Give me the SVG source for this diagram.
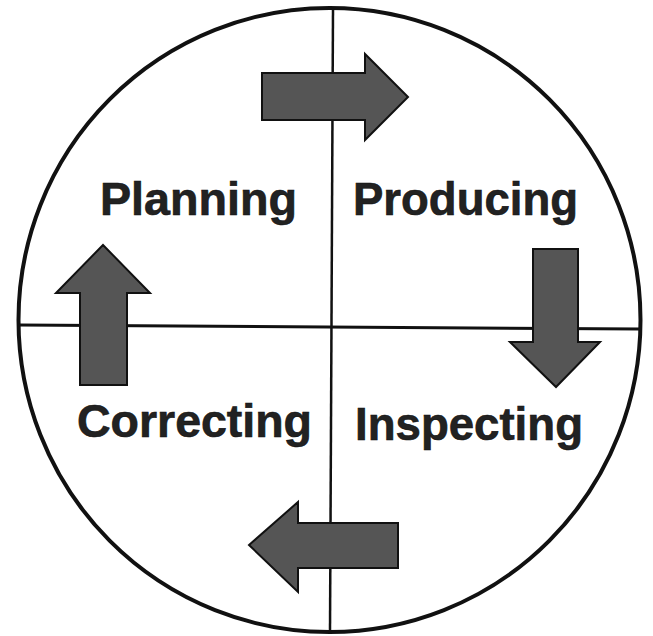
<svg xmlns="http://www.w3.org/2000/svg" width="653" height="636" viewBox="0 0 653 636">
<style>
.arrow{fill:#555;stroke:#111;stroke-width:2;stroke-linejoin:miter}
.line{stroke:#111;fill:none}
.label{font-family:"Liberation Sans",Arial,sans-serif;font-weight:bold;font-size:46px;fill:#222;stroke:#111;stroke-width:0.6}
</style>
<rect width="653" height="636" fill="#fff"/>
<g id="connectors">
<ellipse class="line" cx="329.5" cy="320" rx="311" ry="312" stroke-width="4"/>
<line class="line" x1="333" y1="9" x2="330" y2="631" stroke-width="2.5"/>
<line class="line" x1="19" y1="325" x2="640" y2="329" stroke-width="3"/>
<polygon id="arrow-right" class="arrow" points="262,73 365,73 365,54 408,97 365,140 365,120 262,120"/>
<polygon id="arrow-down" class="arrow" points="533,249 578,249 578,342 600,342 556,387 510,342 533,342"/>
<polygon id="arrow-left" class="arrow" points="398,523 298,523 298,502 249,545 298,592 298,568 398,568"/>
<polygon id="arrow-up" class="arrow" points="80,385 127,385 127,293 150,293 103,245 56,293 80,293"/>
</g>
<g id="planning"><text class="label" x="100" y="215" textLength="197" lengthAdjust="spacingAndGlyphs">Planning</text></g>
<g id="producing"><text class="label" x="353" y="215" textLength="225" lengthAdjust="spacingAndGlyphs">Producing</text></g>
<g id="correcting"><text class="label" x="77" y="437" textLength="235" lengthAdjust="spacingAndGlyphs">Correcting</text></g>
<g id="inspecting"><text class="label" x="355" y="440" textLength="228" lengthAdjust="spacingAndGlyphs">Inspecting</text></g>
</svg>
